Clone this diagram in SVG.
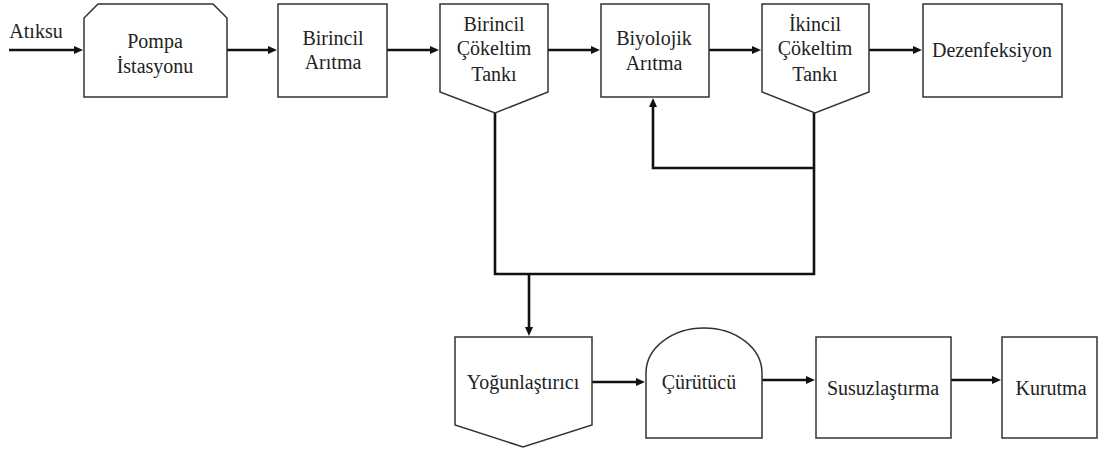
<svg xmlns="http://www.w3.org/2000/svg" width="1099" height="450" viewBox="0 0 1099 450">
  <style>
    .box { fill: #fff; stroke: #333; stroke-width: 1.5; }
    .lbl { font-family: "Liberation Serif", "Times New Roman", serif; font-size: 20px; fill: #222; text-anchor: middle; }
    .wire { fill: none; stroke: #111; stroke-width: 2.6; }
    .flow { fill: none; stroke: #111; stroke-width: 2.6; marker-end: url(#head); }
  </style>
  <defs>
    <marker id="head" viewBox="0 0 9 9" markerUnits="userSpaceOnUse" markerWidth="9" markerHeight="9" refX="3" refY="4.5" orient="auto">
      <path d="M0,0.5 L9,4.5 L0,8.5 Z" fill="#111"/>
    </marker>
  </defs>
  <rect width="1099" height="450" fill="#fff"/>

  <g id="connectors">
    <path class="flow" d="M9,50 H77"/>
    <path class="flow" d="M227,50 H271"/>
    <path class="flow" d="M387,50 H433"/>
    <path class="flow" d="M548,50 H594"/>
    <path class="flow" d="M709,50 H755"/>
    <path class="flow" d="M869,50 H916"/>
    <path class="wire" d="M495,113 V274 H814 V113"/>
    <path class="flow" d="M814,168 H653 V104"/>
    <path class="flow" d="M529,274 V330"/>
    <path class="flow" d="M592,382 H639"/>
    <path class="flow" d="M762,380 H809"/>
    <path class="flow" d="M951,380 H995"/>
  </g>

  <g id="atiksu-label">
    <text class="lbl" x="36" y="38">Atıksu</text>
  </g>

  <g id="pompa">
    <path class="box" d="M84,97 V18 L98,4 H213 L227,18 V97 Z"/>
    <text class="lbl" x="155" y="48">Pompa</text>
    <text class="lbl" x="155" y="73">İstasyonu</text>
  </g>

  <g id="birincil-aritma">
    <rect class="box" x="278" y="4" width="109" height="93"/>
    <text class="lbl" x="333" y="45">Birincil</text>
    <text class="lbl" x="333" y="69">Arıtma</text>
  </g>

  <g id="birincil-cokeltim">
    <path class="box" d="M440,4 H548 V92 L495,113 L440,92 Z"/>
    <text class="lbl" x="494" y="31">Birincil</text>
    <text class="lbl" x="494" y="55">Çökeltim</text>
    <text class="lbl" x="494" y="81">Tankı</text>
  </g>

  <g id="biyolojik-aritma">
    <rect class="box" x="601" y="4" width="108" height="93"/>
    <text class="lbl" x="654" y="45">Biyolojik</text>
    <text class="lbl" x="654" y="70">Arıtma</text>
  </g>

  <g id="ikincil-cokeltim">
    <path class="box" d="M762,4 H869 V92 L815,113 L762,92 Z"/>
    <text class="lbl" x="815" y="31">İkincil</text>
    <text class="lbl" x="815" y="55">Çökeltim</text>
    <text class="lbl" x="815" y="81">Tankı</text>
  </g>

  <g id="dezenfeksiyon">
    <rect class="box" x="923" y="4" width="139" height="93"/>
    <text class="lbl" x="992" y="57">Dezenfeksiyon</text>
  </g>

  <g id="yogunlastirici">
    <path class="box" d="M455,337 H592 V425 L523,447 L455,425 Z"/>
    <text class="lbl" x="523" y="389">Yoğunlaştırıcı</text>
  </g>

  <g id="curutucu">
    <path class="box" d="M646,438 V373 A58,45 0 0 1 762,373 V438 Z"/>
    <text class="lbl" x="699" y="389">Çürütücü</text>
  </g>

  <g id="susuzlastirma">
    <rect class="box" x="816" y="337" width="135" height="101"/>
    <text class="lbl" x="883" y="395">Susuzlaştırma</text>
  </g>

  <g id="kurutma">
    <rect class="box" x="1002" y="337" width="95" height="101"/>
    <text class="lbl" x="1051" y="395">Kurutma</text>
  </g>
</svg>
